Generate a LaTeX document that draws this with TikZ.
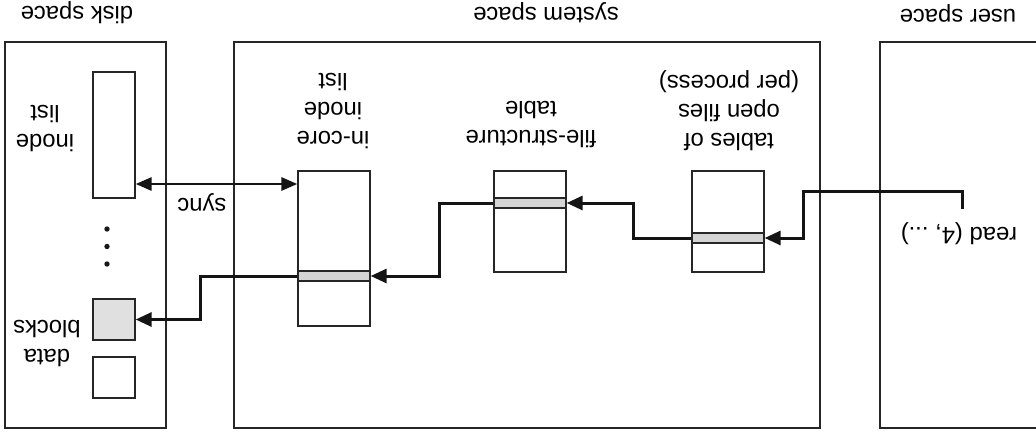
\documentclass[tikz,border=0pt]{standalone}
\usepackage{fontspec}
\setmainfont{Liberation Sans}
\usetikzlibrary{arrows.meta}
\begin{document}
\begin{tikzpicture}[x=1pt,y=-1pt,
 lbl/.style={rotate=180, font=\fontsize{23.8}{29}\selectfont, align=center, inner sep=0pt, text=black},
 frame/.style={draw=black!85, line width=1.4pt, inner sep=0pt},
 cell/.style={draw=black!85, line width=1.3pt, fill=white, inner sep=0pt},
 band/.style={draw=black!85, line width=1.3pt, fill=black!17, inner sep=0pt, minimum width=72pt, minimum height=10pt},
 conn/.style={draw=black!92, line width=3pt, -{Triangle[length=16pt,width=14pt]}},
 dconn/.style={draw=black!92, line width=2.8pt, {Triangle[length=16pt,width=13pt]}-{Triangle[length=16pt,width=13pt]}},
]
\useasboundingbox (0,0) rectangle (1036,440);
% frames
\node[frame, minimum width=161pt, minimum height=386pt] (disk) at (85.5,235) {};
\node[frame, minimum width=586pt, minimum height=386pt] (sys) at (527,235) {};
\draw[draw=black!85, line width=1.4pt] (1040,42) -- (880,42) -- (880,428) -- (1040,428);
% titles
\node[lbl] (tdisk) at (77,13) {disk space};
\node[lbl] (tsys) at (546,13) {system space};
\node[lbl] (tuser) at (958,13) {user space};
% disk contents
\node[cell, minimum width=42pt, minimum height=126pt] (ilist) at (114,135) {};
\node[cell, fill=black!12, minimum width=42pt, minimum height=41pt] (dblk) at (114,319.5) {};
\node[cell, minimum width=42pt, minimum height=41pt] (wblk) at (114,377.5) {};
\node[lbl] (tilist) at (45,129) {inode\\list};
\node[lbl] (tdblk) at (47,343) {data\\blocks};
\fill[black!90] (107,229) circle (2.7pt) (107,246.5) circle (2.7pt) (107,264) circle (2.7pt);
% system contents
\node[cell, minimum width=72pt, minimum height=155pt] (incore) at (334,248.5) {};
\node[band] (icband) at (334,276) {};
\node[cell, minimum width=72pt, minimum height=101pt] (fstab) at (530,221.5) {};
\node[band] (fsband) at (530,203) {};
\node[cell, minimum width=72pt, minimum height=101pt] (oftab) at (728,221.5) {};
\node[band] (ofband) at (728,238) {};
\node[lbl] (tincore) at (333,111) {in-core\\inode\\list};
\node[lbl] (tfstab) at (531,125) {file-structure\\table};
\node[lbl] (toftab) at (729,111) {tables of\\open files\\(per process)};
% user
\node[lbl] (tread) at (959,234) {read (4, ...)};
\coordinate (rd) at (962,209);
% connectors
\draw[conn] (rd) |- (803,191) |- (ofband.east);
\draw[conn] (ofband.west) -- (633,238) |- (fsband.east);
\draw[conn] (fsband.west) -- (439,203) |- (icband.east);
\draw[conn] (icband.west) -- (200,276) |- (dblk.east);
\draw[dconn] (ilist.east |- 0,184) -- (incore.west |- 0,184);
\node[lbl] (tsync) at (202,202) {sync};
\end{tikzpicture}
\end{document}
